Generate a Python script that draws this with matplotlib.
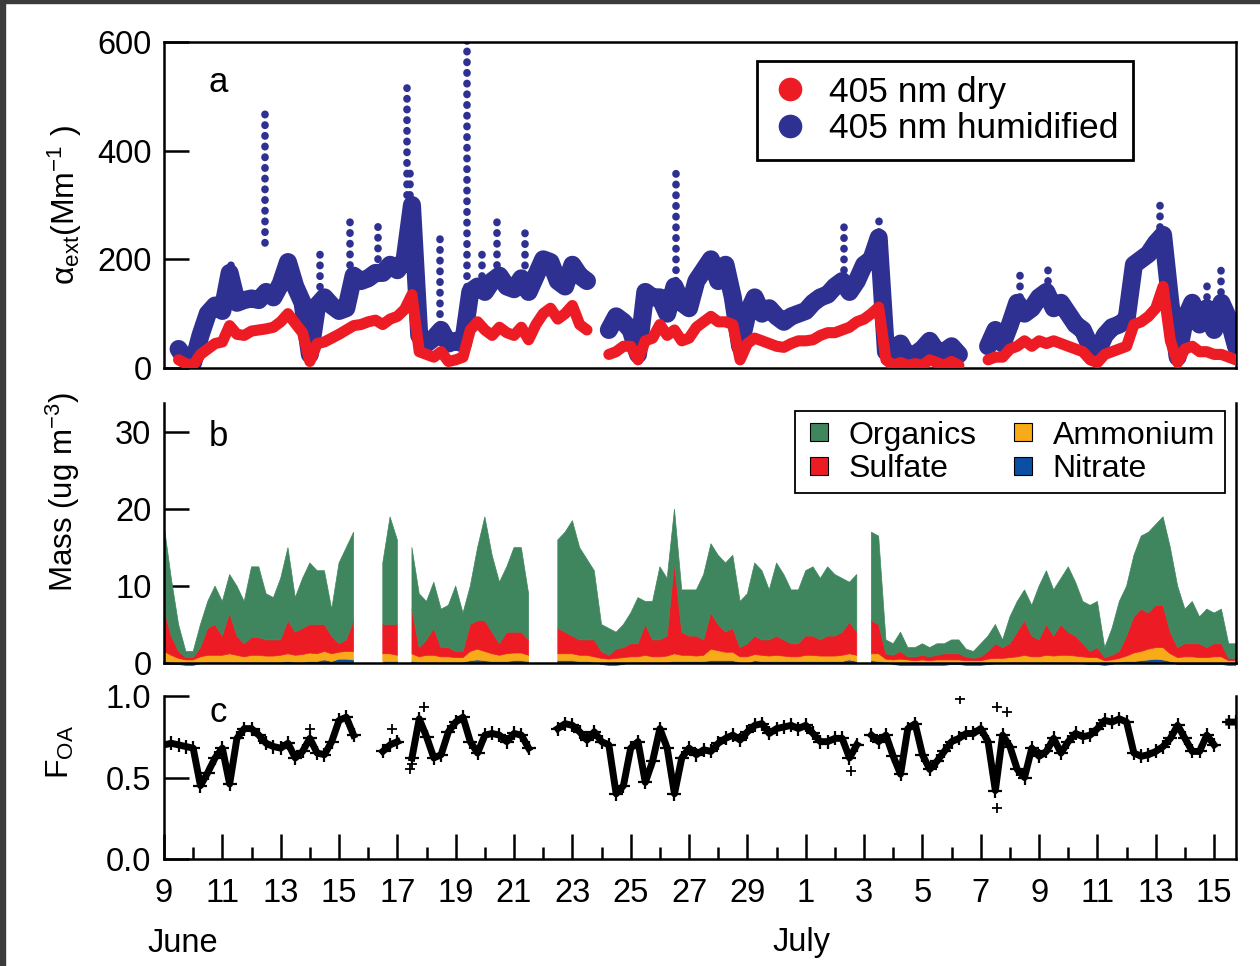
import numpy as np
import matplotlib
matplotlib.use("Agg")
import matplotlib.pyplot as plt
from matplotlib.lines import Line2D
from matplotlib.patches import Rectangle

plt.rcParams['font.family'] = ['Liberation Sans', 'DejaVu Sans']
plt.rcParams['mathtext.fontset'] = 'custom'
plt.rcParams['mathtext.rm'] = 'Liberation Sans'
plt.rcParams['mathtext.it'] = 'Liberation Sans:italic'

nan = np.nan
STEP = 0.25  # sampling interval, days since 9 June 00:00

# ---- (a) 405 nm extinction, Mm-1 ----
ext_humid = [
    nan, nan, 35, 15, 10, 60, 100, 115,
    105, 175, 120, 125, 128, 125, 140, 130,
    155, 195, 150, 120, 25, 115, 130, 115,
    105, 110, 170, 160, 165, 175, 175, 190,
    180, 200, 300, 60, 45, 55, 70, 45,
    50, 45, 140, 150, 140, 160, 170, 150,
    145, 165, 140, 170, 200, 195, 160, 150,
    190, 170, 160, nan, nan, 70, 95, 85,
    70, 25, 140, 130, 130, 100, 150, 120,
    110, 160, 180, 200, 160, 190, 130, 40,
    100, 130, 100, 110, 95, 85, 95, 100,
    105, 120, 130, 135, 150, 160, 140, 160,
    190, 200, 240, 30, 25, 45, 20, 25,
    35, 50, 30, 30, 40, 25, nan, nan,
    nan, 40, 70, 45, 80, 120, 100, 110,
    130, 140, 110, 120, 100, 80, 70, 40,
    30, 60, 75, 80, 90, 190, 200, 210,
    230, 245, 120, 20, 90, 120, 80, 110,
    70, 120, 90, 40]
ext_dry = [
    nan, nan, 15, 8, 5, 25, 35, 45,
    48, 78, 62, 60, 68, 70, 72, 75,
    85, 100, 82, 65, 12, 45, 48, 55,
    62, 70, 78, 80, 85, 88, 80, 90,
    95, 108, 135, 30, 25, 20, 30, 12,
    15, 20, 70, 85, 70, 60, 75, 65,
    60, 75, 52, 80, 100, 110, 90, 100,
    115, 80, 70, nan, nan, 25, 30, 40,
    40, 15, 50, 55, 80, 60, 70, 50,
    55, 75, 85, 95, 85, 85, 80, 15,
    45, 55, 50, 45, 40, 38, 45, 50,
    50, 52, 60, 65, 65, 70, 75, 85,
    90, 100, 112, 15, 5, 10, 5, 8,
    5, 15, 10, 5, 12, 5, nan, nan,
    nan, 15, 20, 20, 35, 40, 50, 40,
    50, 45, 50, 45, 40, 35, 30, 15,
    10, 25, 30, 35, 40, 80, 85, 95,
    110, 150, 50, 10, 35, 40, 30, 30,
    25, 25, 20, 15]

# short humidified plumes: time, lowest and highest reading
plume_t = [2.3, 3.46, 5.35, 6.38, 7.35, 8.33, 8.45, 9.47, 10.39, 10.9,
           11.41, 12.38, 17.56, 23.3, 24.5, 29.36, 30.3, 34.16, 35.75, 36.25]
plume_lo = [150, 230, 150, 170, 180, 240, 240, 80, 150, 150,
            170, 150, 160, 160, 230, 110, 140, 240, 110, 120]
plume_hi = [205, 485, 220, 272, 266, 515, 370, 248, 615, 217,
            275, 263, 360, 263, 275, 186, 183, 309, 162, 183]

# ---- (b) aerosol mass, ug m-3 ----
organics = [
    11, 7.5, 3.5, 0.8, 0.8, 3, 3.5, 5,
    4.5, 5, 6.5, 5.5, 9.2, 9.2, 6, 5.5,
    8, 9.5, 4.5, 6.5, 8, 7, 7, 3.5,
    10.5, 12, 11.5, nan, nan, nan, 8, 14,
    11, nan, 8, 7, 5, 6, 5, 5.5,
    8.5, 5, 5, 9.5, 13.5, 10, 8, 8.5,
    11, 11, 6, nan, nan, nan, 11.5, 13,
    15, 12, 10.5, 9, 3.5, 3.5, 2.2, 3,
    4, 6, 3, 5, 9.5, 7.5, 7, 5.5,
    6, 6, 8.5, 9, 9, 9, 9.5, 6,
    6.5, 9.5, 9, 6.5, 9.5, 8.5, 7, 7,
    8.5, 9, 8, 9, 8, 7, 5.2, 7.5,
    nan, 11.5, 11.5, 1.8, 1.5, 2.5, 1.2, 1.2,
    1.5, 1.2, 1.5, 1.3, 1.8, 1.8, 1.0, 0.9,
    1.7, 2, 2.5, 1.0, 3.5, 4, 4, 4,
    7, 7, 6, 6, 8.5, 7, 5.5, 6,
    6, 1.3, 3.5, 6.5, 6.5, 8, 9.5, 10.5,
    10.5, 11.5, 11, 8, 4.5, 5.5, 3.5, 5,
    4, 4.5, 1.9, 1.9]
sulfate = [
    5.5, 2.5, 0.9, 0.3, 0.3, 1.2, 3.5, 4,
    2.5, 5.3, 2.5, 1.7, 2.3, 2.3, 2.1, 2.1,
    2, 4.3, 3, 3.4, 3.7, 3.8, 3.5, 2.3,
    1.1, 1.5, 4, nan, nan, nan, 3.8, 3.8,
    4, nan, 5.8, 1.2, 2, 3.5, 1.2, 1.2,
    0.8, 0.8, 3.5, 3.7, 4, 2.8, 1.5, 2.8,
    2.7, 2.7, 2, nan, nan, nan, 3.3, 2.8,
    2.3, 2, 2, 2.2, 0.9, 0.5, 1.2, 1.3,
    1.7, 1.7, 4, 2.2, 2.2, 2.6, 11.8, 3,
    2.5, 2.6, 2, 4.7, 3.4, 2.6, 3.1, 1.2,
    1.7, 2.4, 2, 2.1, 2.5, 2.1, 1.7, 1.7,
    2.5, 2.5, 2.1, 2.6, 2.6, 3, 4.1, 3,
    nan, 4.3, 3.8, 0.7, 0.6, 1.0, 0.4, 0.5,
    0.6, 0.5, 0.6, 0.8, 0.8, 0.8, 0.5, 0.3,
    0.5, 1.0, 1.9, 1.4, 1.8, 3.2, 4.5, 2.7,
    2.2, 4, 2.6, 4, 3, 2.6, 1.7, 0.8,
    1.3, 0.4, 0.6, 0.9, 2.6, 4.7, 5.5, 4.7,
    5.5, 5.5, 2.8, 1.3, 1.7, 1.7, 1.8, 1.3,
    1.7, 1.7, 0.3, 0.3]
ammonium = [
    1.3, 0.9, 0.6, 0.4, 0.4, 0.8, 0.9, 0.9,
    0.9, 1.1, 0.9, 0.7, 0.9, 0.9, 0.8, 0.8,
    0.9, 1.0, 0.9, 1.0, 1.1, 1.0, 1.1, 1.0,
    0.9, 1.0, 1.1, nan, nan, nan, 1.0, 1.0,
    0.8, nan, 1.0, 0.7, 0.9, 0.9, 0.7, 0.7,
    0.6, 0.6, 1.2, 1.4, 1.2, 1.0, 0.8, 1.0,
    1.0, 1.0, 0.8, nan, nan, nan, 0.9, 0.9,
    0.9, 0.8, 0.8, 0.7, 0.6, 0.5, 0.6, 0.7,
    0.7, 0.7, 0.9, 0.7, 0.7, 0.8, 1.0, 0.8,
    0.8, 0.7, 0.8, 1.5, 1.3, 1.1, 1.1, 0.7,
    0.8, 0.8, 0.8, 0.7, 0.8, 0.7, 0.6, 0.6,
    0.8, 0.8, 0.7, 0.7, 0.7, 0.8, 0.8, 0.8,
    nan, 0.9, 1.0, 0.4, 0.4, 0.5, 0.4, 0.3,
    0.4, 0.3, 0.4, 0.4, 0.4, 0.4, 0.3, 0.3,
    0.3, 0.5, 0.6, 0.6, 0.6, 0.7, 0.9, 0.7,
    0.7, 0.9, 0.8, 0.9, 0.9, 0.8, 0.8, 0.7,
    0.7, 0.3, 0.4, 0.5, 0.7, 1.1, 1.2, 1.4,
    1.5, 1.6, 1.0, 0.7, 0.8, 0.8, 0.7, 0.7,
    0.8, 0.8, 0.3, 0.3]
nitrate = [
    0.2, 0.1, -0.2, -0.3, -0.3, -0.1, 0.1, 0.1,
    0.1, 0.1, 0.1, 0.1, 0.1, 0.1, 0.1, 0.1,
    0.1, 0.2, 0.1, 0.1, 0.2, 0.2, 0.4, 0.2,
    0.5, 0.5, 0.4, nan, nan, nan, 0.2, 0.2,
    0.2, nan, 0.2, 0.1, 0.1, 0.1, 0.1, 0.1,
    0.1, 0.1, 0.3, 0.4, 0.3, 0.2, 0.2, 0.2,
    0.3, 0.3, 0.2, nan, nan, nan, 0.3, 0.3,
    0.3, 0.2, 0.2, 0.1, -0.2, -0.3, -0.3, -0.2,
    0.1, 0.1, 0.1, 0.1, 0.1, 0.1, 0.2, 0.2,
    0.2, 0.2, 0.2, 0.3, 0.3, 0.3, 0.3, 0.1,
    -0.1, 0.3, 0.2, 0.2, 0.2, 0.2, 0.2, 0.2,
    0.2, 0.2, 0.2, 0.2, 0.2, 0.2, 0.4, 0.2,
    nan, 0.3, 0.2, 0.1, -0.2, -0.3, -0.3, -0.3,
    -0.3, -0.3, -0.3, -0.3, -0.2, -0.2, -0.3, -0.3,
    -0.3, -0.2, -0.1, -0.1, 0.1, 0.1, 0.1, 0.1,
    0.1, 0.1, 0.1, 0.1, 0.1, 0.1, -0.1, -0.2,
    -0.2, -0.3, -0.2, 0.1, 0.2, 0.2, 0.3, 0.4,
    0.5, 0.4, 0.2, -0.2, -0.2, -0.2, -0.2, -0.2,
    -0.2, -0.2, -0.3, -0.3]

# ---- (c) organic mass fraction ----
f_oa = [
    0.70, 0.71, 0.70, 0.69, 0.68, 0.45, 0.53, 0.62,
    0.68, 0.46, 0.74, 0.80, 0.80, 0.76, 0.71, 0.69,
    0.68, 0.71, 0.62, 0.66, 0.74, 0.65, 0.64, 0.72,
    0.85, 0.87, 0.76, nan, nan, nan, 0.66, 0.70,
    0.72, nan, 0.62, 0.86, 0.75, 0.62, 0.64, 0.78,
    0.84, 0.87, 0.72, 0.65, 0.76, 0.77, 0.76, 0.72,
    0.77, 0.76, 0.68, nan, nan, nan, 0.80, 0.83,
    0.82, 0.78, 0.73, 0.78, 0.72, 0.70, 0.40, 0.45,
    0.68, 0.72, 0.47, 0.60, 0.80, 0.68, 0.40, 0.62,
    0.68, 0.64, 0.67, 0.66, 0.71, 0.74, 0.76, 0.73,
    0.78, 0.82, 0.83, 0.77, 0.80, 0.81, 0.82, 0.80,
    0.82, 0.77, 0.72, 0.72, 0.74, 0.74, 0.62, 0.70,
    nan, 0.76, 0.72, 0.76, 0.63, 0.52, 0.80, 0.83,
    0.64, 0.55, 0.60, 0.66, 0.72, 0.74, 0.77, 0.77,
    0.80, 0.72, 0.42, 0.76, 0.69, 0.55, 0.50, 0.68,
    0.63, 0.66, 0.74, 0.65, 0.72, 0.77, 0.75, 0.76,
    0.80, 0.85, 0.84, 0.86, 0.84, 0.65, 0.63, 0.64,
    0.66, 0.69, 0.74, 0.82, 0.74, 0.66, 0.66, 0.76,
    0.70, nan, 0.84, 0.84]
f_oa_stray_t = [5.0, 7.8, 8.45, 8.5, 8.9, 23.55, 27.3, 28.56, 28.56, 28.9]
f_oa_stray = [0.80, 0.80, 0.55, 0.58, 0.93, 0.54, 0.98, 0.93, 0.31, 0.90]

# x axis: days since 9 June; labels every second day
tick_days = list(range(0, 37, 2))
tick_labels = ['9', '11', '13', '15', '17', '19', '21', '23', '25', '27', '29',
               '1', '3', '5', '7', '9', '11', '13', '15']
minor_days = list(range(1, 37, 2))

RED = '#ed1c24'
NAVY = '#2e3192'
GREEN = '#3f865f'
ORANGE = '#f9aa19'
NITRATE = '#0b4fa3'

W, H = 1260, 966
fig = plt.figure(figsize=(W / 100, H / 100), dpi=100)
fig.patch.set_facecolor('white')
# dark frame strips along the top and left edge
fig.patches.append(Rectangle((0, 1 - 3 / H), 1, 3 / H, transform=fig.transFigure,
                             color='#3b3b3b', zorder=0))
fig.patches.append(Rectangle((0, 0), 5 / W, 1, transform=fig.transFigure,
                             color='#3b3b3b', zorder=0))


def box(left, top, right, bottom):
    return [left / W, 1 - bottom / H, (right - left) / W, (bottom - top) / H]


ax_a = fig.add_axes(box(164, 42, 1236, 368))
ax_b = fig.add_axes(box(164, 403, 1236, 663))
ax_c = fig.add_axes(box(164, 696, 1236, 859))

t = np.arange(len(ext_dry)) * STEP
XMAX = 36.75
LBL = 23.5
SPW = 1.8

for ax in (ax_a, ax_b, ax_c):
    ax.set_xlim(0, XMAX)
    for s in ax.spines.values():
        s.set_linewidth(SPW)
    ax.tick_params(axis='y', direction='in', length=18, width=SPW,
                   labelsize=LBL, pad=9, right=False)
    ax.tick_params(axis='x', bottom=False, labelbottom=False, top=False)

# ---- panel a ----
ax_a.plot(t, ext_humid, color=NAVY, lw=13, solid_capstyle='round',
          solid_joinstyle='round', zorder=2)
plumes = ax_a.vlines(plume_t, plume_lo, plume_hi, colors=NAVY, lw=5.5,
                     linestyles=[(0, (0.05, 1.35))], zorder=2)
plumes.set_capstyle('round')
ax_a.plot(t, ext_dry, color=RED, lw=8, solid_capstyle='round',
          solid_joinstyle='round', zorder=3)
ax_a.set_ylim(0, 600)
ax_a.set_yticks([0, 200, 400, 600])

leg_a = ax_a.legend(
    handles=[Line2D([], [], ls='none', marker='o', ms=16, color=RED, label='405 nm dry'),
             Line2D([], [], ls='none', marker='o', ms=16, color=NAVY, label='405 nm humidified')],
    loc='upper left', bbox_to_anchor=(757 / W, 1 - 61 / H), bbox_transform=fig.transFigure,
    fontsize=25.5, frameon=True, fancybox=False, edgecolor='black', framealpha=1,
    handlelength=1.0, handletextpad=0.6, borderpad=0.42, labelspacing=0.1,
    borderaxespad=0)
leg_a.get_frame().set_linewidth(2.0)

# ---- panel b ----
org = np.array(organics)
sul = np.array(sulfate)
amm = np.array(ammonium)
nit = np.array(nitrate)
base = np.maximum(nit, 0)
top_amm = base + amm
top_sul = top_amm + sul
top_org = top_sul + org
ax_b.fill_between(t, 0, nit, color=NITRATE, lw=0.5, zorder=2, clip_on=False)
ax_b.fill_between(t, base, top_amm, color=ORANGE, lw=0.5, zorder=2)
ax_b.fill_between(t, top_amm, top_sul, color=RED, lw=0.5, zorder=2)
ax_b.fill_between(t, top_sul, top_org, color=GREEN, lw=0.5, zorder=2)
ax_b.set_ylim(0, 33.8)
ax_b.set_yticks([0, 10, 20, 30])
ax_b.spines['top'].set_visible(False)

sq = dict(ls='none', marker='s', ms=13, mec='black', mew=0.8)
leg_b = ax_b.legend(
    handles=[Line2D([], [], mfc=GREEN, label='Organics', **sq),
             Line2D([], [], mfc=RED, label='Sulfate', **sq),
             Line2D([], [], mfc=ORANGE, label='Ammonium', **sq),
             Line2D([], [], mfc=NITRATE, label='Nitrate', **sq)],
    ncol=2, loc='upper left', bbox_to_anchor=(795 / W, 1 - 411 / H),
    bbox_transform=fig.transFigure, fontsize=23, frameon=True, fancybox=False,
    edgecolor='black', framealpha=1, handlelength=0.9, handletextpad=0.48,
    borderpad=0.3, labelspacing=0.1, columnspacing=1.0, borderaxespad=0)
leg_b.get_frame().set_linewidth(1.3)

# ---- panel c ----
ax_c.plot(t, f_oa, color='black', lw=5, marker='+', ms=10, mew=1.6, zorder=2)
ax_c.plot(f_oa_stray_t, f_oa_stray, ls='none', color='black', marker='+', ms=7,
          mew=1.3, zorder=2)
ax_c.set_ylim(0, 1.0)
ax_c.set_yticks([0, 0.5, 1.0])
ax_c.set_yticklabels(['0.0', '0.5', '1.0'])
ax_c.spines['top'].set_visible(False)
ax_c.set_xticks(tick_days)
ax_c.set_xticklabels(tick_labels)
ax_c.set_xticks(minor_days, minor=True)
ax_c.tick_params(axis='x', which='major', bottom=True, labelbottom=True,
                 direction='in', length=18, width=SPW, labelsize=LBL, pad=14)
ax_c.tick_params(axis='x', which='minor', bottom=True, direction='in',
                 length=9, width=SPW)

# panel letters
for txt, y in (('a', 82), ('b', 437), ('c', 712)):
    fig.text(218 / W, 1 - y / H, txt, fontsize=25, ha='center', va='center')

# axis titles
fig.text(65 / W, 1 - 205 / H, r'$\mathrm{\alpha_{ext}}$(Mm$^{\mathrm{-1}}$ )',
         rotation=90, fontsize=23, ha='center', va='center')
fig.text(63 / W, 1 - 492 / H, r'Mass (ug m$^{\mathrm{-3}}$)',
         rotation=90, fontsize=22.5, ha='center', va='center')
fig.text(60 / W, 1 - 752 / H, r'F$_{\mathrm{OA}}$',
         rotation=90, fontsize=23, ha='center', va='center')

fig.text(183 / W, 1 - 943 / H, 'June', fontsize=LBL, ha='center', va='center')
fig.text(801 / W, 1 - 943 / H, 'July', fontsize=LBL, ha='center', va='center')

fig.savefig('out.png', dpi=100, facecolor='white')
